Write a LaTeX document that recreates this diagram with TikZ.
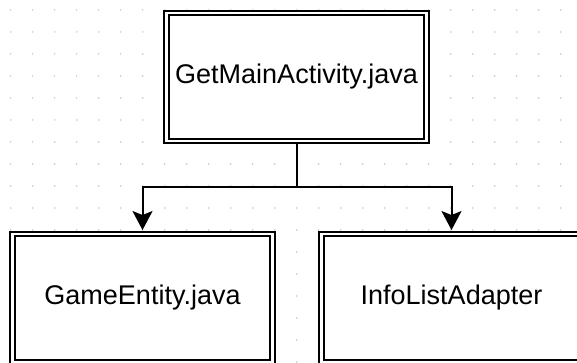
\documentclass[tikz,border=0pt]{standalone}
\usepackage{fontspec}
\setmainfont{Liberation Sans}
\usetikzlibrary{arrows.meta}
\tikzset{
  filebox/.style={draw=black, double=white, double distance=2.4pt, line width=1.9pt,
    fill=white, inner sep=0pt, minimum width=260pt, minimum height=128pt,
    font=\fontsize{27}{30}\selectfont},
  link/.style={draw=black, line width=2pt},
  arrowlink/.style={link, -{Stealth[length=19pt,width=20pt,inset=4pt]}, shorten >=3pt},
  griddot/.style={fill=black!22}
}
\begin{document}
\begin{tikzpicture}[x=1pt,y=-1pt]
\useasboundingbox (0,0) rectangle (577,363);
\clip (0,0) rectangle (577,363);
\fill[white] (0,0) rectangle (577,363);
\foreach \i in {0,...,26}{
  \foreach \j in {0,...,16}{
    \fill[griddot] (10.7+22*\i,10+22*\j) circle (0.8pt);
  }
}
\node[filebox] (main) at (296.5,77) {GetMainActivity.java};
\node[filebox] (game) at (142.5,298) {GameEntity.java};
\node[filebox] (info) at (451.5,298) {InfoListAdapter};
\coordinate (split) at (296.5,187);
\draw[link] (main.south) -- (split);
\draw[arrowlink] (split) -| (game.north);
\draw[arrowlink] (split) -| (info.north);
\end{tikzpicture}
\end{document}
